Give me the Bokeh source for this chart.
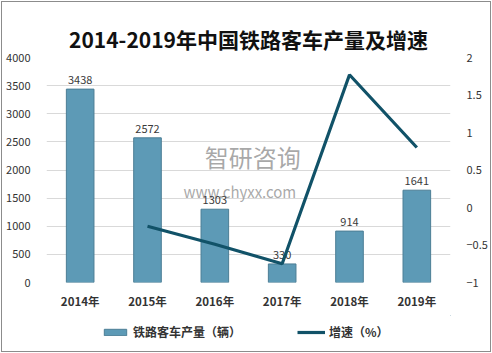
from bokeh.plotting import figure
from bokeh.layouts import column
from bokeh.models import (FactorRange, Range1d, LinearAxis, ColumnDataSource, Legend, LegendItem,
                          Title, FixedTicker)
from bokeh.embed import file_html
from bokeh.resources import INLINE
from bokeh.core.properties import value

years = ["2014年", "2015年", "2016年", "2017年", "2018年", "2019年"]
output = [3438, 2572, 1303, 330, 914, 1641]
growth_years = ["2015年", "2016年", "2017年", "2018年", "2019年"]
growth = [-0.25, -0.49, -0.75, 1.77, 0.80]
left_ticks = [0, 500, 1000, 1500, 2000, 2500, 3000, 3500, 4000]
right_ticks = [-1, -0.5, 0, 0.5, 1, 1.5, 2]
series_names = ["铁路客车产量（辆）", "增速（%）"]

FONT = "Noto Sans CJK SC"
BAR_FILL = "#5D9AB6"
BAR_LINE = "#4C7E95"
LINE_COL = "#115268"

p = figure(width=488, height=313, x_range=FactorRange(*years, range_padding=0),
           y_range=Range1d(0, 4000), output_backend="svg", toolbar_location=None,
           min_border_left=44, min_border_right=40, min_border_top=55, min_border_bottom=33)
p.extra_y_ranges = {"g": Range1d(-1, 2)}
p.x_range.factor_padding = 0

p.title = Title(text="2014-2019年中国铁路客车产量及增速", align="center",
                vertical_align="middle",
                text_font=FONT, text_font_size="21px", text_font_style="bold",
                text_color="#111111", standoff=6)

p.outline_line_color = None
p.background_fill_color = "white"
p.border_fill_color = "white"

src = ColumnDataSource(dict(x=years, y=output, lab=[str(v) for v in output]))
bars = p.vbar(x="x", top="y", width=0.41, source=src, fill_color=BAR_FILL,
              line_color=BAR_LINE, line_width=1)

# watermark
p.text(x=["2016年"], y=[2240], text=["智研咨询"], x_offset=38, text_font=value(FONT),
       text_font_size="24px", text_color="#8c8c8c", text_alpha=0.75, text_baseline="middle",
       text_align="center")
p.text(x=["2016年"], y=[1610], text=["www.chyxx.com"], x_offset=25, text_font=value(FONT),
       text_font_size="15px", text_color="#8c8c8c", text_alpha=0.75, text_baseline="middle",
       text_align="center")

p.text(x="x", y="y", text="lab", source=src, text_align="center", text_baseline="bottom",
       y_offset=-5, text_font=value(FONT), text_font_size="11px", text_color="#3a3a3a")

gsrc = ColumnDataSource(dict(x=growth_years, y=growth))
ln = p.line(x="x", y="y", source=gsrc, y_range_name="g", line_color=LINE_COL, line_width=3.2)

p.yaxis.ticker = FixedTicker(ticks=left_ticks)
p.ygrid.ticker = FixedTicker(ticks=left_ticks)
p.ygrid.grid_line_color = "#d9d9d9"
p.xgrid.grid_line_color = None
for ax in [p.yaxis[0], p.xaxis[0]]:
    ax.axis_line_color = None
    ax.major_tick_line_color = None
    ax.minor_tick_line_color = None
    ax.major_label_text_font = FONT
    ax.major_label_text_font_size = "11px"
    ax.major_label_text_color = "#333333"
p.yaxis.major_label_standoff = 10
p.xaxis.major_label_standoff = 4
p.xaxis.major_label_text_font_style = "bold"
p.xaxis.major_label_text_font_size = "11.5px"

rax = LinearAxis(y_range_name="g", ticker=FixedTicker(ticks=right_ticks))
rax.axis_line_color = None
rax.major_tick_line_color = None
rax.minor_tick_line_color = None
rax.major_label_text_font = FONT
rax.major_label_text_font_size = "11px"
rax.major_label_text_color = "#333333"
rax.major_label_standoff = 10
p.add_layout(rax, "right")

# legend strip (its own renderers sit outside the visible range)
q = figure(width=488, height=36, x_range=Range1d(0, 1), y_range=Range1d(0, 1),
           output_backend="svg", toolbar_location=None, min_border=0)
q.axis.visible = False
q.grid.visible = False
q.outline_line_color = None
lb = q.vbar(x=[5], top=[5], bottom=[4], width=0.4, fill_color=BAR_FILL, line_color=BAR_LINE)
ll = q.line(x=[5, 6], y=[5, 5], line_color=LINE_COL, line_width=3.2)
legend = Legend(items=[LegendItem(label=series_names[0], renderers=[lb]),
                       LegendItem(label=series_names[1], renderers=[ll])],
                orientation="horizontal", location=(55, 11), spacing=56,
                glyph_width=28, glyph_height=8, label_text_font=FONT,
                label_text_font_size="12px", label_text_font_style="bold",
                label_text_color="#333333", border_line_color=None,
                background_fill_alpha=0, margin=0, padding=4, label_standoff=4)
q.add_layout(legend)

layout = column(p, q, spacing=0, styles={"border": "1px solid #8c8c8c", "margin": "1px"})
open("out.html", "w").write(file_html(layout, INLINE))
